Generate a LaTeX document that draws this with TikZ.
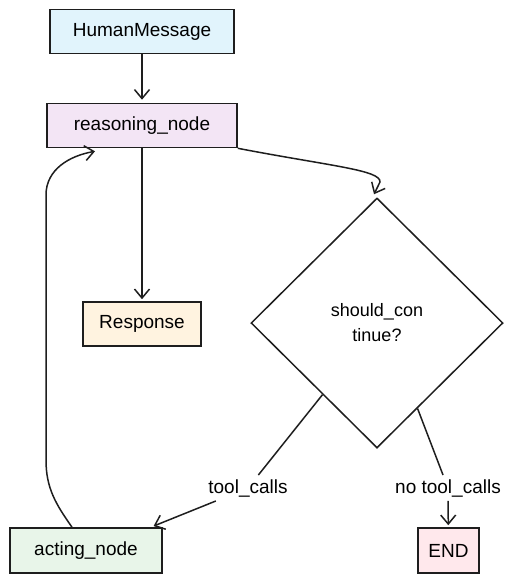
\documentclass[tikz,border=0pt]{standalone}
\usepackage{fontspec}
\setmainfont{Liberation Sans}
\usepackage{tikz}
\usetikzlibrary{positioning, arrows.meta, shapes.geometric, calc}
\definecolor{humanblue}{RGB}{225, 244, 252}
\definecolor{reasonpurple}{RGB}{243, 229, 245}
\definecolor{responseorange}{RGB}{255, 243, 224}
\definecolor{actgreen}{RGB}{232, 245, 233}
\definecolor{endpink}{RGB}{255, 232, 236}
\definecolor{inkgray}{RGB}{30, 30, 30}

\tikzset{
  box/.style={draw=inkgray, line width=1.6pt, minimum height=44pt, inner sep=0pt,
              font=\fontsize{19}{22}\selectfont},
  flow/.style={draw=inkgray, line width=1.5pt,
               -{Straight Barb[length=9pt, width=15pt, line width=1.5pt]}},
  plainflow/.style={draw=inkgray, line width=1.5pt},
  edgelabel/.style={font=\fontsize{19}{22}\selectfont, inner sep=4pt},
}

\begin{document}
\begin{tikzpicture}[x=1pt, y=1pt]
  \useasboundingbox (0,0) rectangle (521,-582);

  % nodes
  \node[box, fill=humanblue, minimum width=184pt] (human) at (142,-31.5) {HumanMessage};
  \node[box, fill=reasonpurple, minimum width=190pt] (reason) at (142,-125.5) {reasoning\_node};
  \node[box, fill=responseorange, minimum width=118pt] (resp) at (142,-324) {Response};
  \node[draw=inkgray, line width=1.5pt, diamond, minimum width=252pt, minimum height=250pt,
        inner sep=0pt, align=center, font=\fontsize{18}{25}\selectfont] (cont) at (377,-323)
        {should\_con\\tinue?};
  \node[box, fill=actgreen, minimum width=152pt, minimum height=45pt] (act) at (86,-550.5) {acting\_node};
  \node[box, fill=endpink, minimum width=61pt, minimum height=45pt] (finish) at (448.5,-550.5) {END};

  % edge labels
  \node[edgelabel] (tcl) at (248,-488) {tool\_calls};
  \node[edgelabel] (ntcl) at (448,-488) {no tool\_calls};

  % connectors
  \draw[flow, shorten >=3pt] (human) -- (reason);
  \draw[flow, shorten >=2pt] (reason) -- (resp);
  \draw[flow] (reason.south east) .. controls (330,-166) and (381,-170) .. (380,-182)
    -- ([xshift=-3pt, yshift=3pt]cont.north);
  \coordinate (tcstart) at ($(cont.west)!0.57!(cont.south)$);
  \coordinate (ntcstart) at ($(cont.south)!0.32!(cont.east)$);
  \draw[plainflow] (tcstart) -- (tcl);
  \draw[flow, shorten >=3pt] (tcl) -- ([xshift=-12pt]act.north east);
  \draw[plainflow] (ntcstart) -- (ntcl);
  \draw[flow, shorten >=2pt] (ntcl) -- (finish);
  \draw[flow] ([xshift=-14pt]act.north) to[out=125, in=-90] (46,-460)
    -- (46,-195) to[out=90, in=190] ([xshift=-47pt, yshift=-3pt]reason.south);
\end{tikzpicture}
\end{document}
